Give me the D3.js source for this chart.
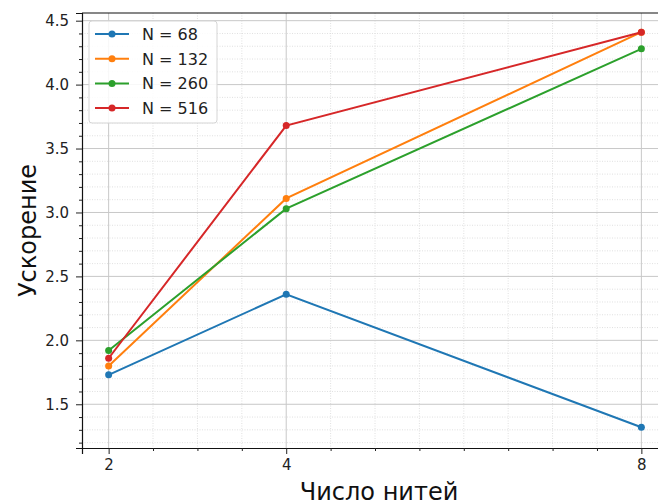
<!DOCTYPE html>
<meta charset="utf-8" />
<style>
  html, body {
    margin: 0;
    padding: 0;
    background: #fff;
    font-family: 'DejaVu Sans', sans-serif;
  }
</style>
<script src="https://d3js.org/d3.v7.min.js"></script>
<div id="chart"></div>
<script>
  // data
  const threads = [2, 4, 8];
  const seriesNames = ['N = 68', 'N = 132', 'N = 260', 'N = 516'];
  const speedup68 = [1.73, 2.36, 1.32];
  const speedup132 = [1.80, 3.11, 4.41];
  const speedup260 = [1.92, 3.03, 4.28];
  const speedup516 = [1.86, 3.68, 4.41];
  const yTicks = [1.5, 2.0, 2.5, 3.0, 3.5, 4.0, 4.5];
  const colors = ['#1f77b4', '#ff7f0e', '#2ca02c', '#d62728'];

  const allSeries = [speedup68, speedup132, speedup260, speedup516];

  const W = 658, H = 502;
  const margin = { top: 13, left: 82, right: -10, bottom: 54 };
  const innerW = W - margin.left - margin.right;
  const innerH = H - margin.top - margin.bottom;

  const svg = d3.select('#chart').append('svg')
    .attr('width', W)
    .attr('height', H);

  const g = svg.append('g')
    .attr('transform', 'translate(' + margin.left + ',' + margin.top + ')');

  // matplotlib-like 5% margins
  const x = d3.scaleLinear().domain([1.7, 8.3]).range([0, innerW]);
  const y = d3.scaleLinear().domain([1.158, 4.56]).range([innerH, 0]);

  const xMinor = d3.range(2, 8.01, 0.5).filter(v => threads.indexOf(v) < 0);
  const yMinor = d3.range(12, 46).map(v => v / 10).filter(v => yTicks.indexOf(v) < 0);

  // minor grid (dotted)
  g.append('g').selectAll('line').data(xMinor).enter().append('line')
    .attr('x1', d => x(d)).attr('x2', d => x(d))
    .attr('y1', 0).attr('y2', innerH)
    .attr('stroke', '#d8d8d8').attr('stroke-width', 0.8)
    .attr('stroke-dasharray', '1,1.5');
  g.append('g').selectAll('line').data(yMinor).enter().append('line')
    .attr('x1', 0).attr('x2', innerW)
    .attr('y1', d => y(d)).attr('y2', d => y(d))
    .attr('stroke', '#d8d8d8').attr('stroke-width', 0.8)
    .attr('stroke-dasharray', '1,1.5');

  // major grid
  g.append('g').selectAll('line').data(threads).enter().append('line')
    .attr('x1', d => x(d)).attr('x2', d => x(d))
    .attr('y1', 0).attr('y2', innerH)
    .attr('stroke', '#c8c8c8').attr('stroke-width', 1);
  g.append('g').selectAll('line').data(yTicks).enter().append('line')
    .attr('x1', 0).attr('x2', innerW)
    .attr('y1', d => y(d)).attr('y2', d => y(d))
    .attr('stroke', '#c8c8c8').attr('stroke-width', 1);

  // axes
  g.append('g')
    .attr('transform', 'translate(0,' + innerH + ')')
    .call(d3.axisBottom(x).tickValues(threads).tickFormat(d3.format('d'))
      .tickSize(6).tickPadding(5));
  g.append('g')
    .attr('transform', 'translate(0,' + innerH + ')')
    .call(d3.axisBottom(x).tickValues(xMinor).tickFormat('').tickSize(3))
    .select('.domain').remove();

  g.append('g')
    .call(d3.axisLeft(y).tickValues(yTicks).tickFormat(d3.format('.1f'))
      .tickSize(6).tickPadding(7));
  g.append('g')
    .call(d3.axisLeft(y).tickValues(yMinor).tickFormat('').tickSize(3))
    .select('.domain').remove();

  svg.selectAll('.tick text')
    .attr('font-family', "'DejaVu Sans', sans-serif")
    .attr('font-size', '15px')
    .attr('fill', '#222');
  svg.selectAll('.tick line').attr('stroke', '#222').attr('stroke-width', 1);
  svg.selectAll('.domain').attr('stroke', '#111').attr('stroke-width', 1.2);

  // top spine
  g.append('line')
    .attr('x1', 0).attr('x2', innerW)
    .attr('y1', 0).attr('y2', 0)
    .attr('stroke', '#111').attr('stroke-width', 1.2);

  // lines
  const line = d3.line()
    .x((d, i) => x(threads[i]))
    .y(d => y(d));

  allSeries.forEach(function (vals, k) {
    g.append('path')
      .datum(vals)
      .attr('d', line)
      .attr('fill', 'none')
      .attr('stroke', colors[k])
      .attr('stroke-width', 2);
    g.selectAll('.pt' + k).data(vals).enter().append('circle')
      .attr('cx', (d, i) => x(threads[i]))
      .attr('cy', d => y(d))
      .attr('r', 3.5)
      .attr('fill', colors[k]);
  });

  // legend
  const legend = g.append('g').attr('transform', 'translate(7,8)');
  legend.append('rect')
    .attr('width', 128).attr('height', 102)
    .attr('rx', 3)
    .attr('fill', 'white').attr('fill-opacity', 0.85)
    .attr('stroke', '#d5d5d5').attr('stroke-width', 1);
  seriesNames.forEach(function (name, k) {
    const ly = 13 + k * 24.7;
    legend.append('line')
      .attr('x1', 6).attr('x2', 40)
      .attr('y1', ly).attr('y2', ly)
      .attr('stroke', colors[k]).attr('stroke-width', 2);
    legend.append('circle')
      .attr('cx', 23).attr('cy', ly).attr('r', 3.5)
      .attr('fill', colors[k]);
    legend.append('text')
      .attr('x', 53).attr('y', ly + 6)
      .attr('font-size', '16px')
      .attr('fill', '#222')
      .text(name);
  });

  // axis titles
  svg.append('text')
    .attr('x', margin.left + innerW / 2 + 4)
    .attr('y', H - 2)
    .attr('text-anchor', 'middle')
    .attr('font-size', '24px')
    .attr('fill', '#111')
    .text('Число нитей');

  svg.append('text')
    .attr('transform', 'translate(36,' + (margin.top + innerH / 2) + ') rotate(-90)')
    .attr('text-anchor', 'middle')
    .attr('font-size', '24px')
    .attr('fill', '#111')
    .text('Ускорение');
</script>
